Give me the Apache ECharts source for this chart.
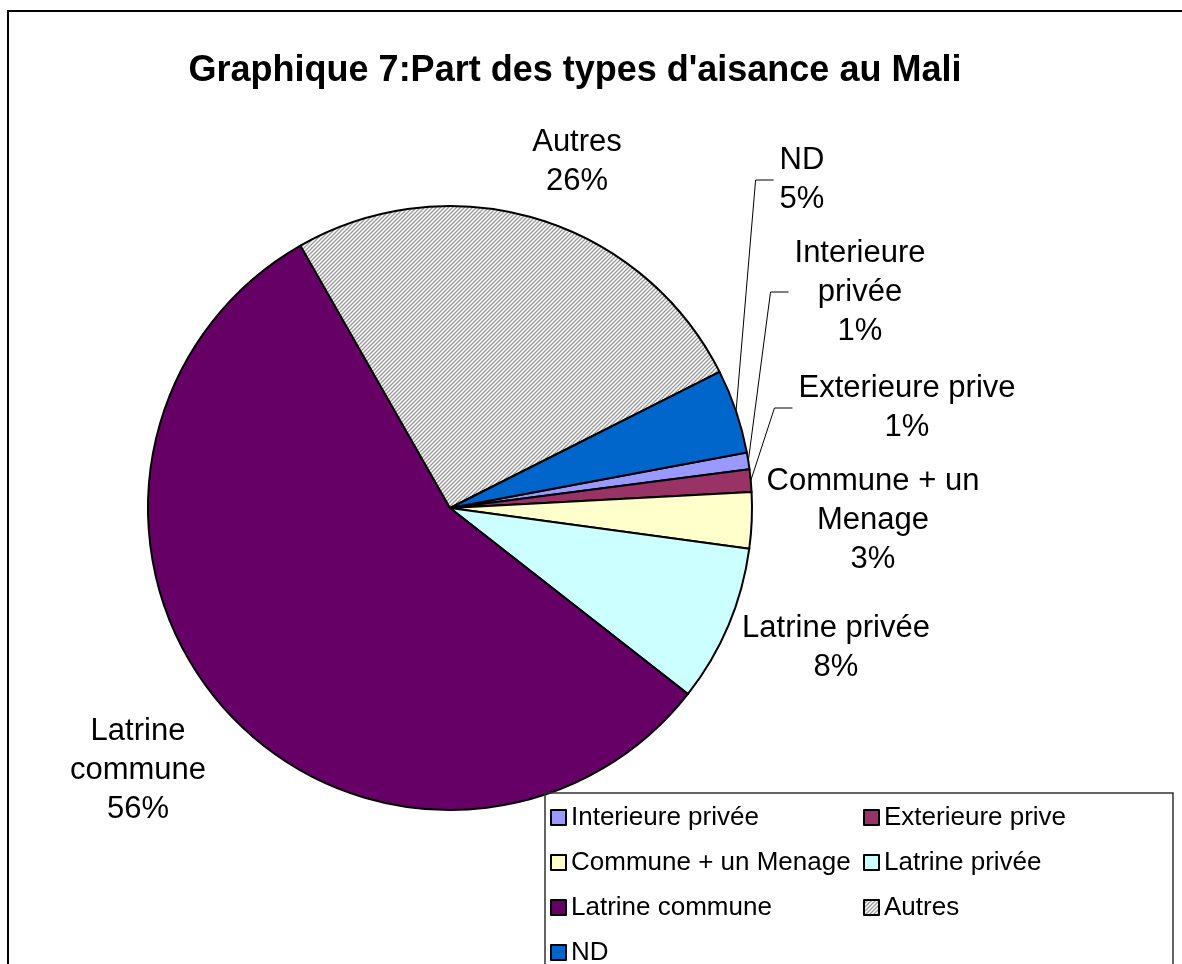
<!DOCTYPE html>
<html>
<head>
<meta charset="utf-8">
<title>Graphique 7</title>
<script src="https://cdn.jsdelivr.net/npm/echarts@6/dist/echarts.min.js"></script>
<style>
  html, body { margin: 0; padding: 0; background: #fff; }
  #chart { width: 1182px; height: 964px; }
</style>
</head>
<body>
<div id="chart"></div>
<script>
// catégories dans l'ordre des parts (sens horaire)
const categories = ['Interieure privée', 'Exterieure prive', 'Commune + un Menage', 'Latrine privée', 'Latrine commune', 'Autres', 'ND'];
// texte des étiquettes, coupé comme dans le graphique Excel
const labelNames = ['Interieure\nprivée', 'Exterieure prive', 'Commune + un\nMenage', 'Latrine privée', 'Latrine\ncommune', 'Autres', 'ND'];
// parts en %
const shares = [0.9, 1.2, 3.0, 8.4, 56.2, 25.8, 4.5];

const colors = ['#9999FF', '#993366', '#FFFFCC', '#CCFFFF', '#660066', 'hatch', '#0066CC'];
// position des étiquettes (centre du bloc) et traits de rappel
const labelPos = [[860, 292], [907, 408], [873, 520], [836, 648], [138, 770], [577, 162], [802, 180]];
const withLine = [true, true, false, false, false, false, true];

const FONT = '"Liberation Sans", Arial, sans-serif';

// motif hachuré gris pour "Autres"
function hatch() {
  const c = document.createElement('canvas');
  c.width = 4;
  c.height = 4;
  const ctx = c.getContext('2d');
  ctx.fillStyle = '#fff';
  ctx.fillRect(0, 0, 4, 4);
  ctx.strokeStyle = '#999';
  ctx.lineWidth = 1.3;
  ctx.beginPath();
  ctx.moveTo(-1, 1); ctx.lineTo(1, -1);
  ctx.moveTo(-1, 5); ctx.lineTo(5, -1);
  ctx.moveTo(3, 5); ctx.lineTo(5, 3);
  ctx.stroke();
  return c;
}

const pattern = { image: hatch(), repeat: 'repeat' };

const pieData = categories.map((name, i) => ({
  name: name,
  value: shares[i],
  itemStyle: { color: colors[i] === 'hatch' ? pattern : colors[i] },
  labelLine: { show: withLine[i] }
}));

const chart = echarts.init(document.getElementById('chart'));

const option = {
  animation: false,
  title: {
    text: "Graphique 7:Part des types d'aisance au Mali",
    left: 575,
    top: 53,
    textAlign: 'center',
    padding: 0,
    textStyle: { fontFamily: FONT, fontSize: 36, fontWeight: 'bold', color: '#000' }
  },
  graphic: [{
    type: 'rect',
    shape: { x: 8, y: 11, width: 1200, height: 1000 },
    style: { fill: 'none', stroke: '#000', lineWidth: 2 },
    silent: true
  }],
  legend: {
    left: 545,
    top: 793,
    width: 640,
    padding: [7, 7, 20, 5],
    orient: 'horizontal',
    icon: 'rect',
    itemWidth: 15,
    itemHeight: 15,
    itemGap: 10,
    borderColor: '#333',
    borderWidth: 1.5,
    selectedMode: false,
    itemStyle: { borderColor: '#000', borderWidth: 2 },
    textStyle: { fontFamily: FONT, fontSize: 26, color: '#000', width: 282, lineHeight: 35 }
  },
  series: [{
    type: 'pie',
    center: [450, 508],
    radius: 302,
    startAngle: 10.6,
    clockwise: true,
    percentPrecision: 0,
    avoidLabelOverlap: false,
    emphasis: { disabled: true },
    itemStyle: { borderColor: '#000', borderWidth: 2 },
    label: {
      show: true,
      position: 'outside',
      fontFamily: FONT,
      fontSize: 31,
      lineHeight: 39,
      color: '#000',
      align: 'center',
      formatter: p => labelNames[p.dataIndex] + '\n' + p.percent + '%'
    },
    labelLine: { show: true, length: 10, length2: 10, lineStyle: { color: '#000', width: 1 } },
    labelLayout: function (p) {
      const pos = labelPos[p.dataIndex];
      const res = { x: pos[0], y: pos[1], align: 'center', verticalAlign: 'middle' };
      if (withLine[p.dataIndex] && p.labelLinePoints) {
        const endX = pos[0] - p.labelRect.width / 2 - 6;
        res.labelLinePoints = [p.labelLinePoints[0], [endX - 18, pos[1]], [endX, pos[1]]];
      }
      return res;
    },
    data: pieData
  }]
};

chart.setOption(option);
</script>
</body>
</html>
